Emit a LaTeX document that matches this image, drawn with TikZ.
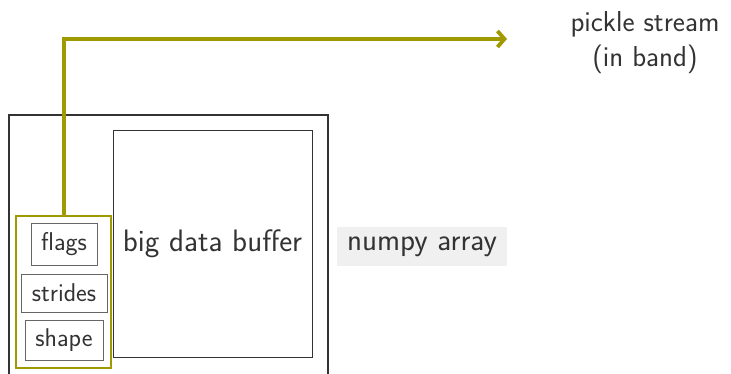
\documentclass[tikz,border=0pt]{standalone}
\usetikzlibrary{arrows.meta}
\definecolor{olivec}{HTML}{A09A00}
\definecolor{ink}{HTML}{333333}
\definecolor{boxgray}{HTML}{666666}
\definecolor{lightbg}{HTML}{F0F0F0}
\begin{document}
\begin{tikzpicture}[x=1pt,y=-1pt,
  every node/.style={text=ink},
  bigfont/.style={font=\sffamily\fontsize{31}{36}\selectfont},
  smallbox/.style={draw=boxgray, line width=1pt, inner sep=0pt, font=\sffamily\fontsize{25.7}{30}\selectfont},
]
\useasboundingbox (0,0) rectangle (731,374);
\clip (0,0) rectangle (731,374);
% outer box
\draw[ink, line width=2pt] (9,115) rectangle (328,390);
% big data buffer
\node[bigfont, draw=ink, line width=1pt, minimum width=199pt, minimum height=226pt, inner sep=0pt] (buf) at (212.5,244) {big data buffer};
% olive group
\node[draw=olivec, line width=2pt, minimum width=95pt, minimum height=152pt, inner sep=0pt] (grp) at (63.5,292) {};
\node[smallbox, minimum width=66pt, minimum height=41pt] (flags) at (64,244.5) {flags};
\node[smallbox, minimum width=86pt, minimum height=38pt] (strides) at (64,293) {strides};
\node[smallbox, minimum width=78pt, minimum height=40pt] (shape) at (64,340) {shape};
% numpy array label
\node[bigfont, fill=lightbg, minimum width=170pt, minimum height=39pt, inner sep=0pt] (np) at (422,246.5) {numpy array};
% pickle stream
\node[font=\sffamily\fontsize{28.8}{35}\selectfont, align=center, inner sep=0pt] (ps) at (645,43) {pickle stream\\(in band)};
\coordinate (tip) at (507,39);
\draw[olivec, line width=3.8pt, -{Straight Barb[length=7pt,width=16pt,line width=3.8pt]}]
  (grp.north -| 64,0) |- (tip);
\end{tikzpicture}
\end{document}
